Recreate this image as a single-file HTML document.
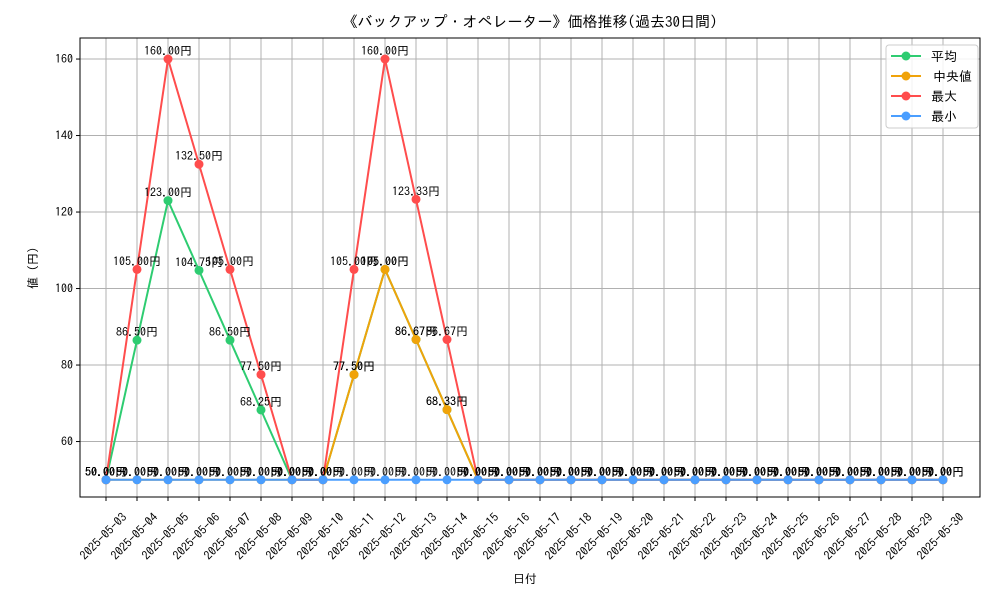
<!DOCTYPE html>
<html><head><meta charset="utf-8"><style>body{margin:0;background:#fff}svg{display:block;font-family:"IPAGothic","Liberation Sans",sans-serif}</style></head>
<body>
<svg id="c" width="1000" height="600"></svg>
<script>
const dates = [];
for (let d = 3; d <= 30; d++) dates.push('2025-05-' + String(d).padStart(2, '0'));
const meanVals = [50,86.5,123,104.75,86.5,68.25,50,50,77.5,105,86.67,68.33,50,50,50,50,50,50,50,50,50,50,50,50,50,50,50,50];
const medianVals = [50,50,50,50,50,50,50,50,77.5,105,86.67,68.33,50,50,50,50,50,50,50,50,50,50,50,50,50,50,50,50];
const maxVals = [50,105,160,132.5,105,77.5,50,50,105,160,123.33,86.67,50,50,50,50,50,50,50,50,50,50,50,50,50,50,50,50];
const minVals = [50,50,50,50,50,50,50,50,50,50,50,50,50,50,50,50,50,50,50,50,50,50,50,50,50,50,50,50];
const yTicks = [60,80,100,120,140,160];
const seriesNames = ['平均','中央値','最大','最小'];
const colors = ['#2ecc71','#f0a30a','#ff4d4d','#4a9eff'];

const NS = 'http://www.w3.org/2000/svg';
const svg = document.getElementById('c');
const L = 80, R = 980, T = 38, B = 497;
const yMin = 45.5, yMax = 165.5;
const x = i => 106 + i * (943 - 106) / (dates.length - 1);
const y = v => B - (v - yMin) / (yMax - yMin) * (B - T);
function el(tag, attrs, parent) {
  const e = document.createElementNS(NS, tag);
  for (const k in attrs) e.setAttribute(k, attrs[k]);
  (parent || svg).appendChild(e);
  return e;
}
const grid = el('g', {});


dates.forEach((d, i) => el('line', {x1:x(i), x2:x(i), y1:T, y2:B, stroke:'#b0b0b0', 'stroke-width':1}, grid));
yTicks.forEach(v => el('line', {x1:L, x2:R, y1:y(v), y2:y(v), stroke:'#b0b0b0', 'stroke-width':1}, grid));
const frame = el('rect', {x:L, y:T, width:R-L, height:B-T, fill:'none', stroke:'#000', 'stroke-width':1});


dates.forEach((d, i) => {
  el('line', {x1:x(i), x2:x(i), y1:B, y2:B+4, stroke:'#000'});
  const cx = x(i) - 2, cy = 537;
  const t = el('text', {x:cx, y:cy, 'font-size':12, 'text-anchor':'middle', 'dominant-baseline':'middle', transform:`rotate(-45 ${cx} ${cy})`});
  t.textContent = d;
  
  
});
yTicks.forEach(v => {
  el('line', {x1:L-4, x2:L, y1:y(v), y2:y(v), stroke:'#000'});
  const t = el('text', {x:L-7, y:y(v)+4, 'font-size':12, 'text-anchor':'end'});
  t.textContent = v;
  
  
});
const all = [meanVals, medianVals, maxVals, minVals];
all.forEach((vals, s) => {
  const g = el('g', {});
  
  
  el('polyline', {points: vals.map((v,i)=>x(i)+','+y(v)).join(' '), fill:'none', stroke:colors[s], 'stroke-width':2}, g);
  vals.forEach((v, i) => {
    const c = el('circle', {cx:x(i), cy:y(v), r:4.5, fill:colors[s]}, g);
    
    
  });
});
all.forEach((vals, s) => {
  vals.forEach((v, i) => {
    const t = el('text', {x:x(i), y:y(v)-4, 'font-size':12, 'text-anchor':'middle', fill:'#000'});
    t.textContent = v.toFixed(2) + '円';
    
    
  });
});
let t = el('text', {x:530, y:27, 'font-size':15, 'text-anchor':'middle'});
t.textContent = '《バックアップ・オペレーター》価格推移(過去30日間)';


t = el('text', {x:525, y:583, 'font-size':12, 'text-anchor':'middle'});
t.textContent = '日付';


t = el('text', {x:37, y:268, 'font-size':12, 'text-anchor':'middle', transform:'rotate(-90 37 268)'});
t.textContent = '値 (円)';


const lg = el('g', {});


el('rect', {x:886, y:45, width:92, height:83, rx:3, fill:'#fff', 'fill-opacity':0.85, stroke:'#ccc'}, lg);
seriesNames.forEach((n, s) => {
  const yy = 56 + s * 20;
  const e = el('g', {}, lg);
  
  
  el('line', {x1:891, x2:921, y1:yy, y2:yy, stroke:colors[s], 'stroke-width':2}, e);
  el('circle', {cx:906, cy:yy, r:4.5, fill:colors[s]}, e);
  const tt = el('text', {x:s===1?933:931, y:yy+5, 'font-size':13}, e);
  tt.textContent = n;
});
</script>
</body></html>
